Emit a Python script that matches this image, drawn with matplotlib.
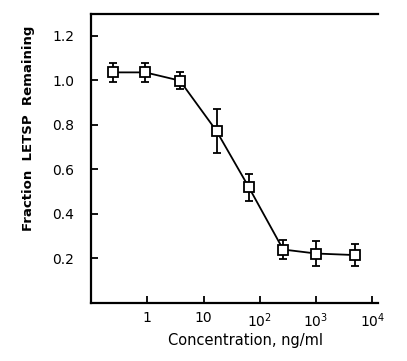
import matplotlib
matplotlib.use("Agg")
import matplotlib.pyplot as plt
from matplotlib.ticker import FixedLocator, FixedFormatter, NullLocator

conc = [0.25, 0.92, 3.8, 17, 64, 260, 1000, 5000]
fraction = [1.035, 1.035, 0.998, 0.772, 0.519, 0.240, 0.222, 0.215]
err = [0.043, 0.043, 0.037, 0.10, 0.06, 0.042, 0.055, 0.051]

xticks = [1, 10, 100, 1000, 10000]
xticklabels = ['1', '10', '$10^2$', '$10^3$', '$10^4$']
yticks = [0.2, 0.4, 0.6, 0.8, 1.0, 1.2]
yticklabels = ['0.2', '0.4', '0.6', '0.8', '1.0', '1.2']

fig = plt.figure(figsize=(4.07, 3.61), dpi=100)
ax = fig.add_axes([0.2236, 0.1607, 0.7051, 0.8005])

ax.plot(conc, fraction, color='black', lw=1.3, zorder=2)
ax.errorbar(conc, fraction, yerr=err, fmt='none', ecolor='black',
            elinewidth=1.3, capsize=3, capthick=1.3, zorder=3)
ax.plot(conc, fraction, 's', ms=6.5, mfc='white', mec='black', mew=1.3, zorder=4)

ax.set_xscale('log')
ax.set_xlim(0.1, 12600)
ax.set_ylim(0, 1.297)

ax.xaxis.set_major_locator(FixedLocator(xticks))
ax.xaxis.set_major_formatter(FixedFormatter(xticklabels))
ax.xaxis.set_minor_locator(NullLocator())
ax.yaxis.set_major_locator(FixedLocator(yticks))
ax.yaxis.set_major_formatter(FixedFormatter(yticklabels))

ax.tick_params(direction='in', length=5, width=1.3, labelsize=10)
ax.tick_params(axis='y', pad=12)
ax.tick_params(axis='x', pad=6)
ax.spines['right'].set_visible(False)
for s in ['left', 'bottom', 'top']:
    ax.spines[s].set_linewidth(1.6)

ax.set_xlabel('Concentration, ng/ml', fontsize=10.5)
ax.xaxis.set_label_coords(0.54, -0.105)
ax.set_ylabel('Fraction  LETSP  Remaining', fontsize=9.5, fontweight='bold')
ax.yaxis.set_label_coords(-0.195, 0.606)

fig.savefig('out.png', dpi=100)
